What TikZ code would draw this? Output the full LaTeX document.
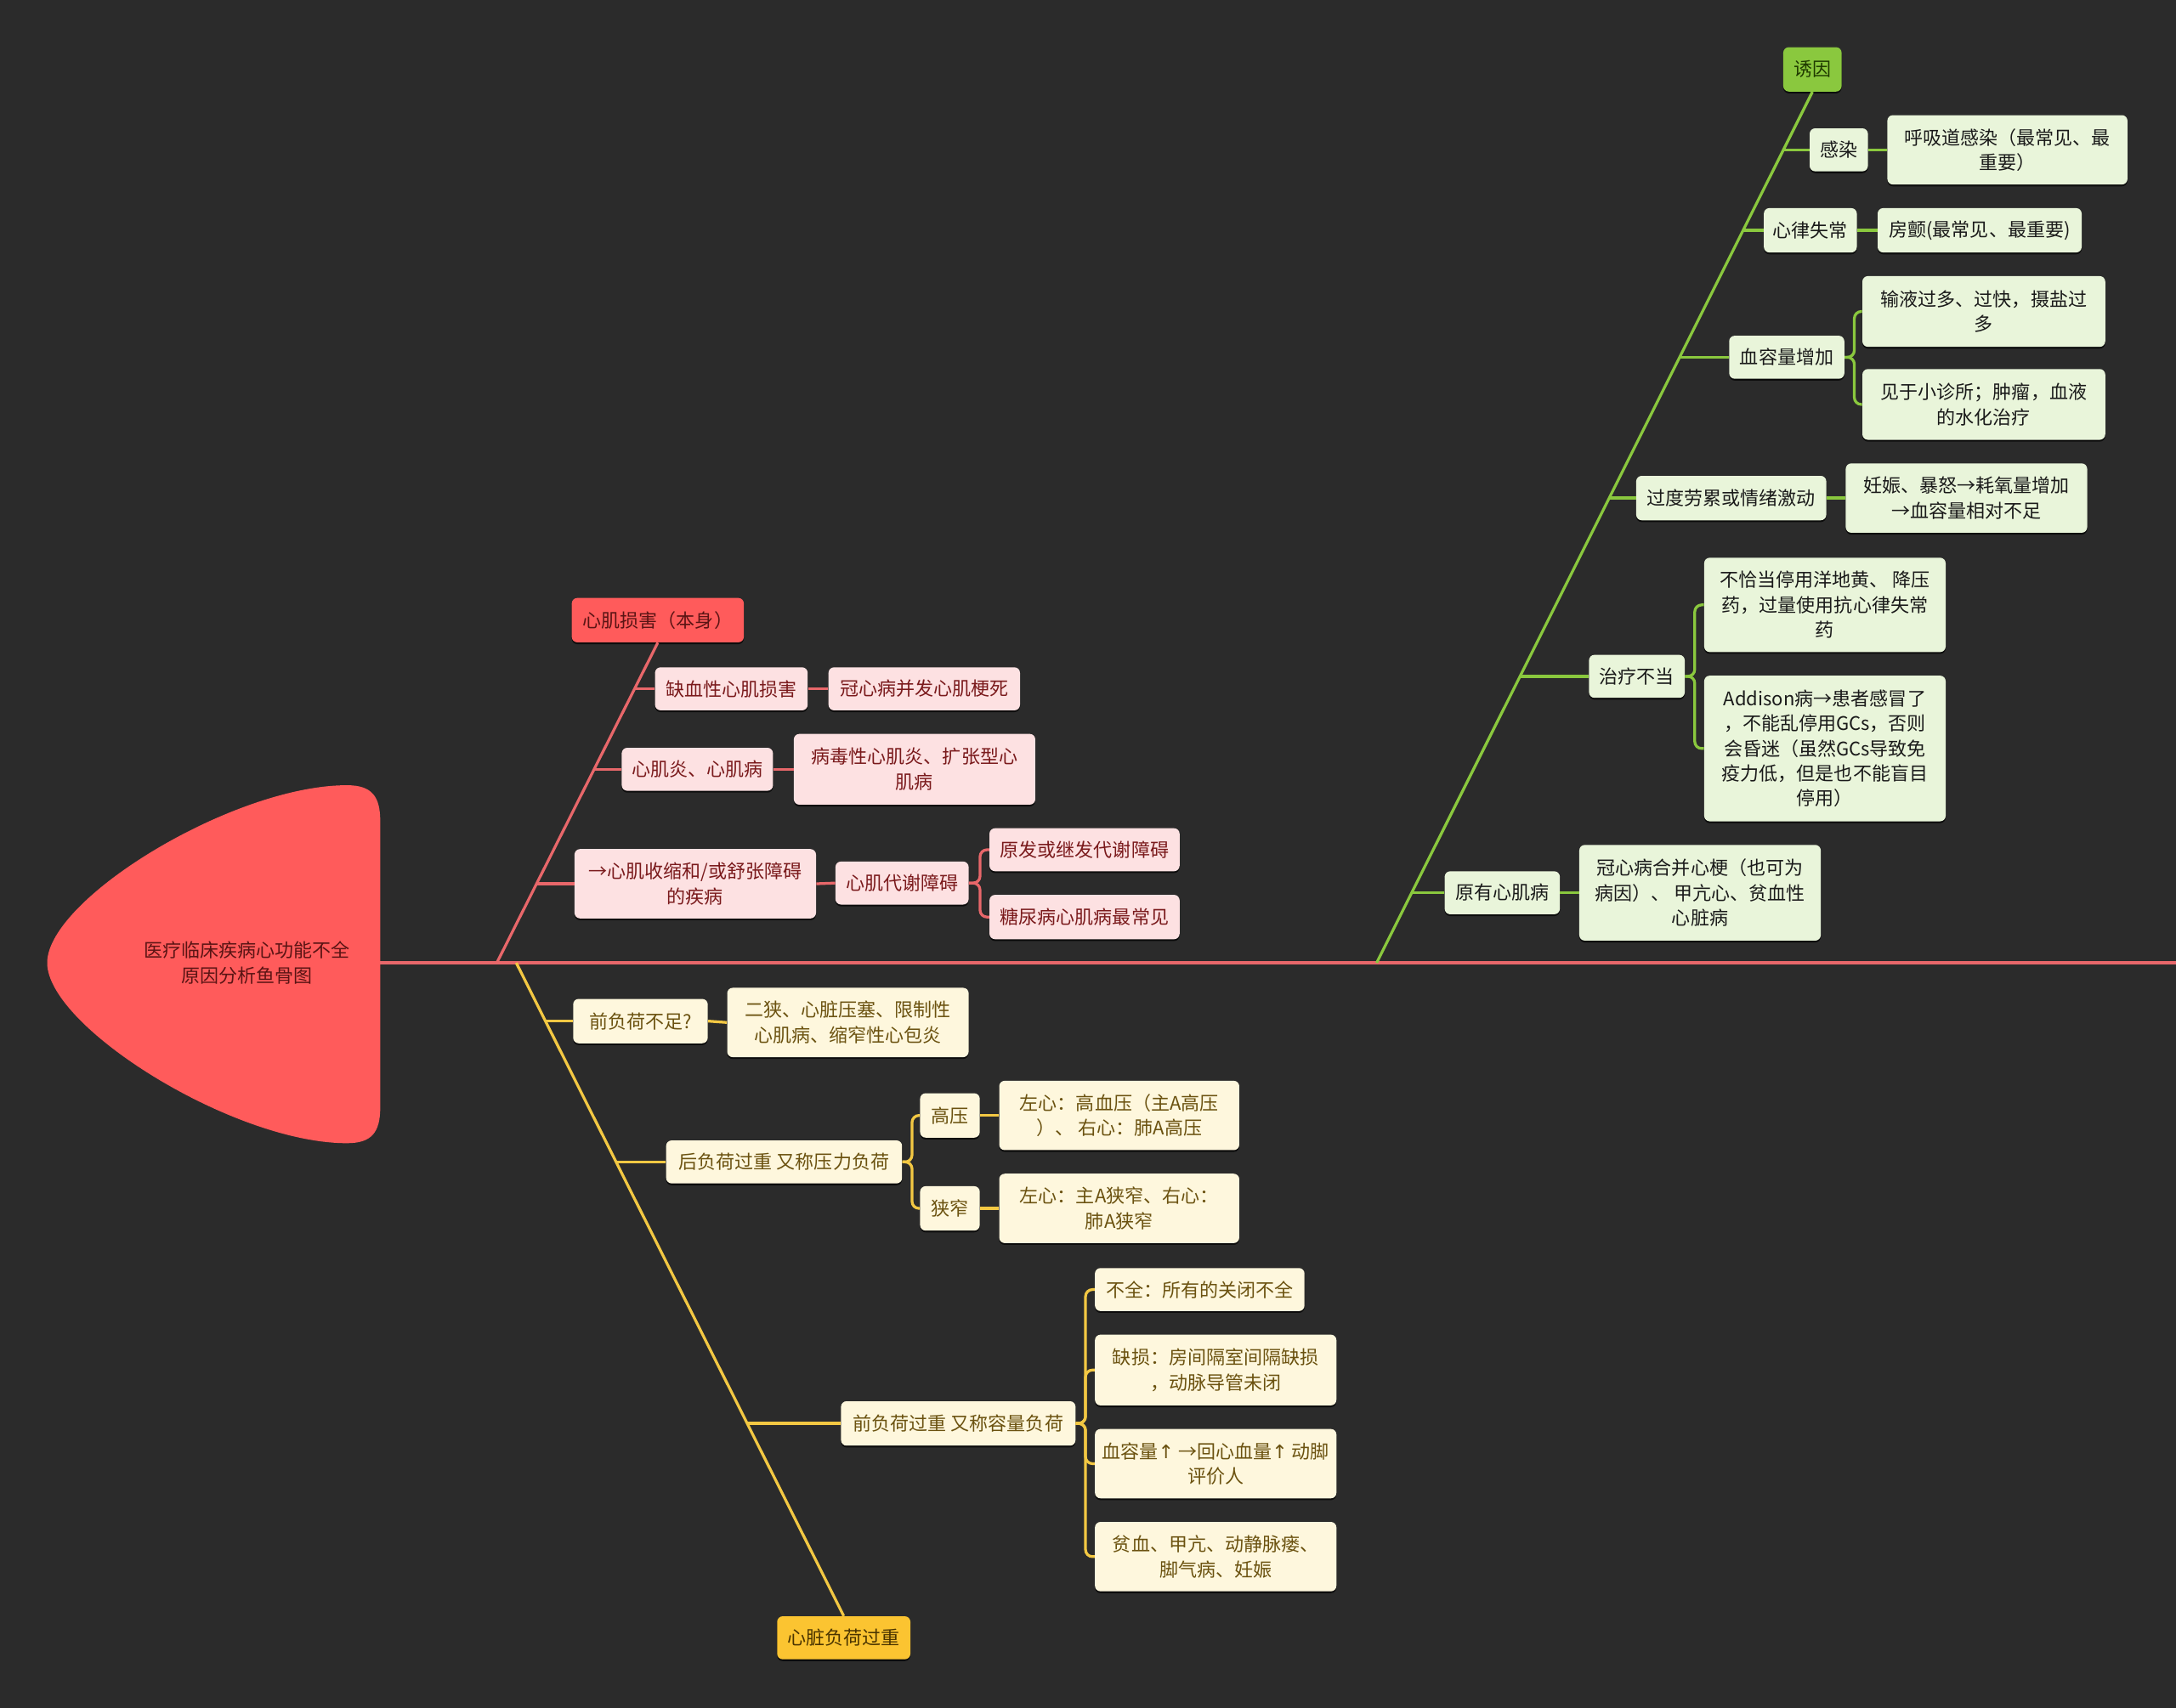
\documentclass[tikz,border=0pt]{standalone}
\usepackage{fontspec}
\setmainfont{Noto Sans CJK SC}
\newfontfamily\arrfont{DejaVu Sans}
\usetikzlibrary{shadows,calc}
\definecolor{bg}{HTML}{2B2B2B}
\definecolor{headred}{HTML}{FF5B5B}
\definecolor{headtext}{HTML}{5A1414}
\definecolor{redline}{HTML}{E8676A}
\definecolor{pinkfill}{HTML}{FDE1E2}
\definecolor{pinktext}{HTML}{7A1A1C}
\definecolor{yelmain}{HTML}{FBC431}
\definecolor{yelmaintext}{HTML}{4A3400}
\definecolor{yelline}{HTML}{F3C843}
\definecolor{creamfill}{HTML}{FEF7DD}
\definecolor{creamtext}{HTML}{6B5210}
\definecolor{grnmain}{HTML}{8AC83E}
\definecolor{grnmaintext}{HTML}{1F3A00}
\definecolor{grnline}{HTML}{8AC83E}
\definecolor{grnfill}{HTML}{E9F5DA}
\definecolor{grntext}{HTML}{1A1A1A}
\tikzset{
  box/.style={rounded corners=4pt, inner sep=0pt, align=center,
    font=\fontsize{13.5}{18}\selectfont,
    drop shadow={shadow xshift=0pt, shadow yshift=-1.3pt, opacity=0.7, fill=black}},
  redmain/.style={box, fill=headred, text=headtext},
  pinkbox/.style={box, fill=pinkfill, text=pinktext},
  yelbox/.style={box, fill=yelmain, text=yelmaintext},
  creambox/.style={box, fill=creamfill, text=creamtext},
  grnbox/.style={box, fill=grnmain, text=grnmaintext},
  lgbox/.style={box, fill=grnfill, text=grntext},
  rl/.style={draw=redline, line width=2pt},
  yl/.style={draw=yelline, line width=2pt},
  gl/.style={draw=grnline, line width=2pt},
  brk/.style={rounded corners=5pt},
  sz/.style 2 args={minimum width=#1, minimum height=#2},
}
\begin{document}
\begin{tikzpicture}[x=1pt,y=-1pt]
\fill[bg] (0,0) rectangle (1568,1231);
\useasboundingbox (0,0) rectangle (1568,1231);

% ---------- head ----------
\fill[headred] (34,694) .. controls (34,648) and (168,566) .. (250,566)
  .. controls (268,566) and (274,574) .. (274,592) -- (274,798)
  .. controls (274,816) and (268,824) .. (250,824)
  .. controls (168,824) and (34,740) .. (34,694) -- cycle;
\node[align=center, text=headtext, font=\fontsize{13.5}{18}\selectfont] (title) at (178,694) {医疗临床疾病心功能不全\\原因分析鱼骨图};

\coordinate (hr) at (274,694);
\coordinate (se) at (1568,694);
\draw[draw=redline, line width=2.5pt] (hr) -- (se);

% ---------- red branch ----------
\coordinate (r0) at (358,694);
\node[redmain, sz={124}{32}] (rm) at (474,447) {心肌损害（本身）};
\node[pinkbox, sz={110}{31}] (r1) at (527,496.5) {缺血性心肌损害};
\node[pinkbox, sz={138}{31}] (r1a) at (666,496.5) {冠心病并发心肌梗死};
\node[pinkbox, sz={109}{31}] (r2) at (502.5,554.5) {心肌炎、心肌病};
\node[pinkbox, sz={174}{51}] (r2a) at (659,554.5) {病毒性心肌炎、扩张型心\\肌病};
\node[pinkbox, sz={174}{50}] (r3) at (501,637) {→心肌收缩和/或舒张障碍\\的疾病};
\node[pinkbox, sz={96}{31}] (r3a) at (650,636.5) {心肌代谢障碍};
\node[pinkbox, sz={137}{31}] (r3b) at (781.5,612.5) {原发或继发代谢障碍};
\node[pinkbox, sz={137}{32}] (r3c) at (781.5,661) {糖尿病心肌病最常见};

\coordinate (jr1) at (457.4,496.5);
\coordinate (jr2) at (428.3,554.5);
\coordinate (jr3) at (387.1,637);
\draw[rl] (r0) -- (rm.south);
\draw[rl] (jr1) -- (r1.west);
\draw[rl] (r1.east) -- (r1a.west);
\draw[rl] (jr2) -- (r2.west);
\draw[rl] (r2.east) -- (r2a.west);
\draw[rl] (jr3) -- (r3.west);
\draw[rl] (r3.east) -- (r3a.west);
\draw[rl, brk] (r3a.east) -- ++(8,0) |- (r3b.west);
\draw[rl, brk] (r3a.east) -- ++(8,0) |- (r3c.west);

% ---------- yellow branch ----------
\coordinate (y0) at (372,694);
\node[yelbox, sz={96}{31}] (ym) at (608,1180.5) {心脏负荷过重};
\node[creambox, sz={97}{32}] (y1) at (461.5,736) {前负荷不足?};
\node[creambox, sz={174}{50}] (y1a) at (611,737) {二狭、心脏压塞、限制性\\心肌病、缩窄性心包炎};
\node[creambox, sz={170}{31}] (y2) at (565,837.5) {后负荷过重 又称压力负荷};
\node[creambox, sz={43}{32}] (y2a) at (684.5,804) {高压};
\node[creambox, sz={43}{32}] (y2b) at (684.5,871) {狭窄};
\node[creambox, sz={173}{50}] (y2c) at (806.5,804) {左心：高血压（主A高压\\）、 右心：肺A高压};
\node[creambox, sz={173}{50}] (y2d) at (806.5,871) {左心：主A狭窄、右心：\\肺A狭窄};
\node[creambox, sz={169}{32}] (y3) at (690.5,1026) {前负荷过重 又称容量负荷};
\node[creambox, sz={151}{31}] (y3a) at (864.5,929.5) {不全：所有的关闭不全};
\node[creambox, sz={174}{51}] (y3b) at (876,987.5) {缺损：房间隔室间隔缺损\\，动脉导管未闭};
\node[creambox, sz={174}{50}] (y3c) at (876,1055) {血容量{\arrfont ↑} →回心血量{\arrfont ↑} 动脚\\评价人};
\node[creambox, sz={174}{50}] (y3d) at (876,1122) {贫血、甲亢、动静脉瘘、\\脚气病、妊娠};

\coordinate (jy1) at (393,736);
\coordinate (jy2) at (443.6,837.5);
\coordinate (jy3) at (538.3,1026);
\draw[yl] (y0) -- (ym.north);
\draw[yl] (jy1) -- (y1.west);
\draw[yl] (y1.east) -- (y1a.west);
\draw[yl] (jy2) -- (y2.west);
\draw[yl, brk] (y2.east) -- ++(7,0) |- (y2a.west);
\draw[yl, brk] (y2.east) -- ++(7,0) |- (y2b.west);
\draw[yl] (y2a.east) -- (y2c.west);
\draw[yl] (y2b.east) -- (y2d.west);
\draw[yl] (jy3) -- (y3.west);
\draw[yl, brk] (y3.east) -- ++(7,0) |- (y3a.west);
\draw[yl, brk] (y3.east) -- ++(7,0) |- (y3b.west);
\draw[yl, brk] (y3.east) -- ++(7,0) |- (y3c.west);
\draw[yl, brk] (y3.east) -- ++(7,0) |- (y3d.west);

% ---------- green branch ----------
\coordinate (g0) at (992,694);
\node[grnbox, sz={42}{32}] (gm) at (1306,50) {诱因};
\node[lgbox, sz={42}{31}] (g1) at (1325,108) {感染};
\node[lgbox, sz={173}{50}] (g1a) at (1446.5,108) {呼吸道感染（最常见、最\\重要）};
\node[lgbox, sz={67}{32}] (g2) at (1304.5,166) {心律失常};
\node[lgbox, sz={147}{32}] (g2a) at (1426.5,166) {房颤(最常见、最重要)};
\node[lgbox, sz={83}{31}] (g3) at (1287.5,257.5) {血容量增加};
\node[lgbox, sz={175}{51}] (g3a) at (1429.5,224.5) {输液过多、过快，摄盐过\\多};
\node[lgbox, sz={175}{51}] (g3b) at (1429.5,291.5) {见于小诊所；肿瘤，血液\\的水化治疗};
\node[lgbox, sz={137}{32}] (g4) at (1247.5,359) {过度劳累或情绪激动};
\node[lgbox, sz={174}{50}] (g4a) at (1417,359) {妊娠、暴怒→耗氧量增加\\→血容量相对不足};
\node[lgbox, sz={69}{31}] (g5) at (1179.5,487.5) {治疗不当};
\node[lgbox, sz={174}{68}] (g5a) at (1315,436) {不恰当停用洋地黄、 降压\\药，过量使用抗心律失常\\药};
\node[lgbox, sz={174}{105}] (g5b) at (1315,539.5) {Addison病→患者感冒了\\，不能乱停用GCs，否则\\会昏迷（虽然GCs导致免\\疫力低，但是也不能盲目\\停用）};
\node[lgbox, sz={83}{31}] (g6) at (1082.5,643.5) {原有心肌病};
\node[lgbox, sz={174}{69}] (g6a) at (1225,643.5) {冠心病合并心梗（也可为\\病因）、 甲亢心、贫血性\\心脏病};

\coordinate (jg1) at (1285,108);
\coordinate (jg2) at (1256,166);
\coordinate (jg3) at (1210.3,257.5);
\coordinate (jg4) at (1159.5,359);
\coordinate (jg5) at (1095.3,487.5);
\coordinate (jg6) at (1017.3,643.5);
\draw[gl] (g0) -- (gm.south);
\draw[gl] (jg1) -- (g1.west);
\draw[gl] (g1.east) -- (g1a.west);
\draw[gl] (jg2) -- (g2.west);
\draw[gl] (g2.east) -- (g2a.west);
\draw[gl] (jg3) -- (g3.west);
\draw[gl, brk] (g3.east) -- ++(7,0) |- (g3a.west);
\draw[gl, brk] (g3.east) -- ++(7,0) |- (g3b.west);
\draw[gl] (jg4) -- (g4.west);
\draw[gl] (g4.east) -- (g4a.west);
\draw[gl] (jg5) -- (g5.west);
\draw[gl, brk] (g5.east) -- ++(7,0) |- (g5a.west);
\draw[gl, brk] (g5.east) -- ++(7,0) |- (g5b.west);
\draw[gl] (jg6) -- (g6.west);
\draw[gl] (g6.east) -- (g6a.west);
\end{tikzpicture}
\end{document}
